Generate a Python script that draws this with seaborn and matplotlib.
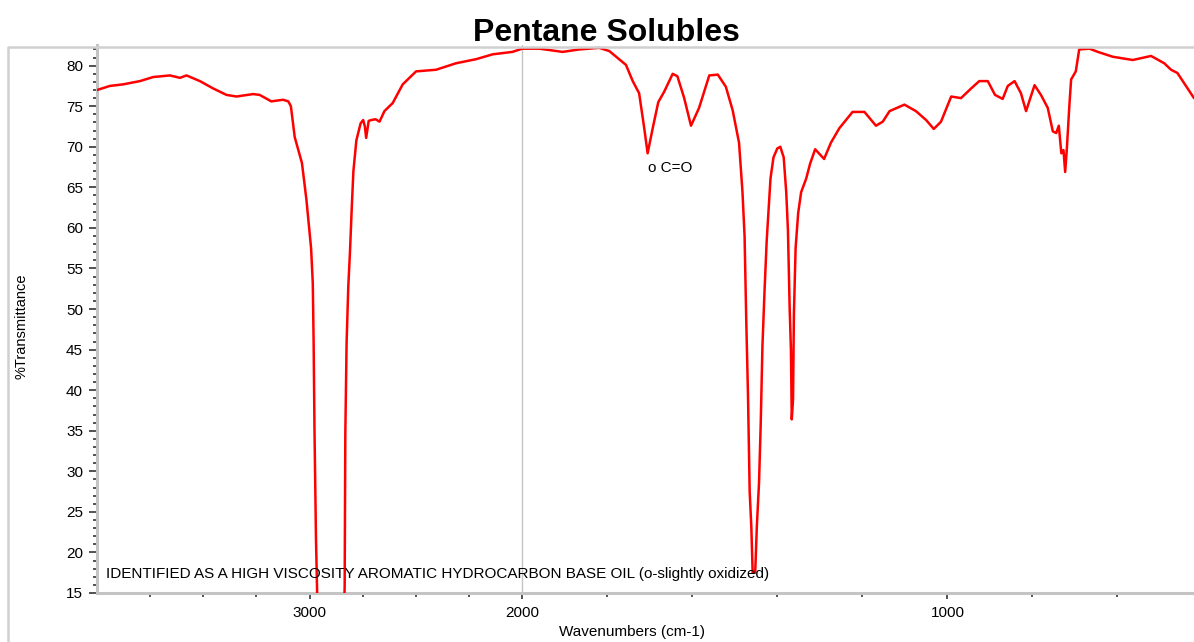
import numpy as np
import pandas as pd
import seaborn as sns
import matplotlib.pyplot as plt
from matplotlib.lines import Line2D
from matplotlib.ticker import FixedLocator

# spectrum (wavenumber cm-1, %T)
wavenumber = [4000, 3940, 3877, 3798, 3736, 3657, 3610, 3579, 3516, 3454,
              3391, 3344, 3266, 3235, 3180, 3125, 3100, 3088, 3070, 3036,
              3015, 3000, 2993, 2985, 2981, 2977, 2970, 2962, 2950, 2860,
              2838, 2835, 2832, 2826, 2818, 2810, 2802, 2794, 2780, 2760,
              2748, 2740, 2734, 2722, 2710, 2690, 2671, 2648, 2609, 2562,
              2499, 2405, 2311, 2217, 2139, 2046, 2000, 1960, 1905, 1866,
              1819, 1795, 1756, 1740, 1725, 1713, 1705, 1693, 1680, 1666,
              1646, 1635, 1619, 1603, 1584, 1560, 1540, 1521, 1505, 1490,
              1482, 1477, 1473, 1469, 1465, 1461, 1458, 1452, 1448, 1443,
              1439, 1435, 1430, 1425, 1421, 1416, 1409, 1400, 1393, 1385,
              1379, 1375, 1371, 1368, 1366, 1363, 1361, 1357, 1351, 1344,
              1332, 1323, 1311, 1290, 1274, 1254, 1223, 1195, 1179, 1168,
              1152, 1136, 1101, 1074, 1050, 1032, 1015, 991, 968, 944,
              925, 905, 888, 870, 858, 842, 827, 815, 795, 780,
              764, 752, 744, 738, 732, 727, 723, 719, 713, 709,
              698, 690, 666, 646, 611, 564, 521, 490, 474, 459,
              439, 420]
transmittance = [77.0, 77.5, 77.7, 78.1, 78.6, 78.8, 78.5, 78.8, 78.1, 77.2,
                 76.4, 76.2, 76.5, 76.4, 75.6, 75.8, 75.6, 75.0, 71.2, 68.0,
                 63.5, 59.5, 57.5, 53.2, 45.8, 35.1, 21.7, 12.0, 5.0, 5.0,
                 12.0, 16.0, 34.6, 45.8, 52.8, 57.1, 62.3, 67.0, 70.8, 72.9,
                 73.3, 72.5, 71.1, 73.2, 73.3, 73.4, 73.1, 74.4, 75.4, 77.7,
                 79.3, 79.5, 80.3, 80.8, 81.4, 81.7, 82.1, 82.1, 81.7, 82.0,
                 82.2, 81.8, 80.1, 78.1, 76.6, 72.3, 69.2, 72.3, 75.5, 76.8,
                 79.0, 78.7, 76.0, 72.6, 74.8, 78.8, 78.9, 77.4, 74.5, 70.5,
                 64.5, 59.0, 48.5, 39.5, 27.5, 23.0, 17.5, 17.5, 23.4, 28.6,
                 35.9, 45.4, 52.3, 58.4, 61.8, 66.1, 68.7, 69.8, 70.0, 68.7,
                 64.4, 59.7, 50.2, 45.0, 36.4, 38.9, 49.3, 57.5, 61.8, 64.4,
                 66.1, 67.9, 69.7, 68.5, 70.5, 72.3, 74.3, 74.3, 73.3, 72.6,
                 73.1, 74.4, 75.2, 74.4, 73.3, 72.2, 73.1, 76.2, 76.0, 77.2,
                 78.1, 78.1, 76.4, 75.9, 77.5, 78.1, 76.6, 74.4, 77.6, 76.4,
                 74.8, 71.9, 71.7, 72.6, 69.2, 69.6, 66.9, 69.8, 75.2, 78.3,
                 79.3, 82.0, 82.1, 81.7, 81.1, 80.7, 81.2, 80.3, 79.5, 79.1,
                 77.5, 76.0]

x_major = [3000, 2000, 1000]
x_minor = [3750, 3500, 3250, 2750, 2500, 2250, 1800, 1600, 1400, 1200, 800, 600]
y_major = list(range(15, 81, 5))

df = pd.DataFrame({'wn': wavenumber, 'T': transmittance})

sns.set_style('white')
plt.rcParams['font.family'] = ['Liberation Sans', 'DejaVu Sans']
plt.rcParams['text.color'] = 'black'

fig = plt.figure(figsize=(11.94, 6.42), dpi=100)
ax = fig.add_axes([97 / 1194, 49 / 642, 1 - 97 / 1194, 548 / 642])


# IR convention: the region above 2000 cm-1 is drawn at half scale
def fwd(x):
    x = np.asarray(x, dtype=float)
    return np.where(x >= 2000, 2000 + (x - 2000) / 2, x)


def inv(u):
    u = np.asarray(u, dtype=float)
    return np.where(u >= 2000, 2000 + (u - 2000) * 2, u)


ax.set_xscale('function', functions=(fwd, inv))
ax.axvline(2000, color='#c4c4c4', lw=1, zorder=1)

sns.lineplot(data=df, x='wn', y='T', color='#ff0000', lw=1.8, sort=False,
             estimator=None, ax=ax, zorder=3)

ax.set_xlim(4000, 420)
ax.set_ylim(15, 82.55)
ax.xaxis.set_major_locator(FixedLocator(x_major))
ax.xaxis.set_minor_locator(FixedLocator(x_minor))
ax.set_xticklabels([str(v) for v in x_major])
ax.set_yticks(y_major)
ax.yaxis.set_minor_locator(FixedLocator(np.arange(15, 83, 1)))

ax.tick_params(axis='both', which='both', direction='out', colors='#222222',
               labelcolor='black', labelsize=11)
ax.tick_params(axis='y', which='major', length=6, width=1.1, pad=4, left=True)
ax.tick_params(axis='y', which='minor', length=3, width=1.1, left=True)
ax.tick_params(axis='x', which='major', length=4.5, width=1.1, pad=5, bottom=True)
ax.tick_params(axis='x', which='minor', length=3, width=1.1, bottom=True)

for side in ['right', 'top']:
    ax.spines[side].set_visible(False)
for side in ['left', 'bottom']:
    ax.spines[side].set_color('#c4c4c4')
    ax.spines[side].set_linewidth(2.2)

ax.set_xlabel('')
ax.set_ylabel('')

# outer panel frame
fig.add_artist(Line2D([8 / 1194, 8 / 1194, 1], [0, 595 / 642, 595 / 642],
                      color='#d0d0d0', lw=1.8, transform=fig.transFigure))

fig.text(0.508, 0.936, 'Pentane Solubles', ha='center', va='baseline',
         fontsize=23, fontweight='bold', color='black')
fig.text(0.529, 0.016, 'Wavenumbers (cm-1)', ha='center', va='center',
         fontsize=11, color='black')
fig.text(22 / 1194, 0.492, '%Transmittance', ha='center', va='center',
         rotation=90, fontsize=10.5, color='black')

ax.text(1705, 67.35, 'o C=O', ha='left', va='center', fontsize=11, color='black')
ax.text(0.008, 0.034, 'IDENTIFIED AS A HIGH VISCOSITY AROMATIC HYDROCARBON BASE OIL (o-slightly oxidized)',
        transform=ax.transAxes, ha='left', va='center', fontsize=11, color='black')

fig.savefig('out.png', dpi=100)
